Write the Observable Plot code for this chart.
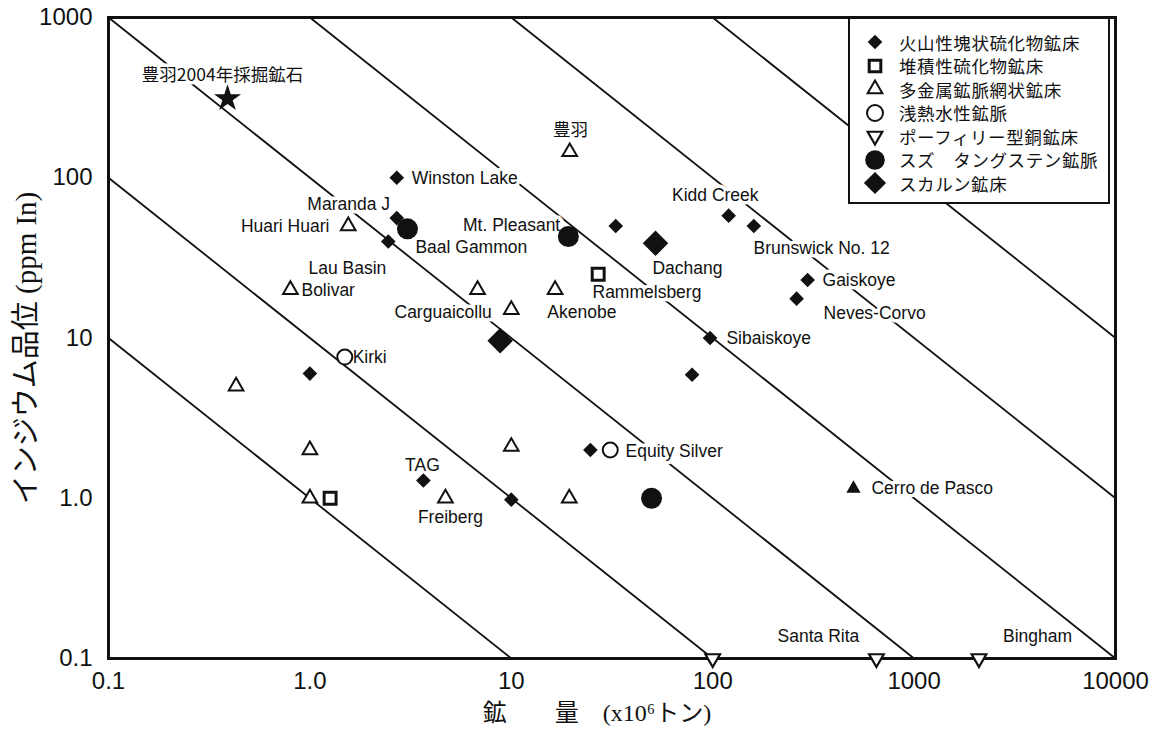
<!DOCTYPE html>
<html><head><meta charset="utf-8">
<script src="https://cdn.jsdelivr.net/npm/d3@7"></script>
<script src="https://cdn.jsdelivr.net/npm/@observablehq/plot@0.6"></script>
<style>
html,body{margin:0;padding:0;background:#fff;}
#wrap{position:relative;width:1159px;height:747px;overflow:hidden;background:#fff;}
#legend{position:absolute;left:848px;top:17px;width:262px;height:187px;box-sizing:border-box;border:2px solid #111;background:#fff;}
.row{position:absolute;left:0;height:24px;display:flex;align-items:center;}
.row svg{display:block;}
.row span{font-family:'Noto Sans CJK JP',sans-serif;font-size:17.5px;letter-spacing:0.6px;color:#111;margin-left:1px;white-space:nowrap;}
g[aria-label="site labels"] text{letter-spacing:1.8px;}
g[aria-label="jp labels"] text{letter-spacing:1.2px;}
</style></head><body><div id="wrap"></div><script>
// ---- axes ----
const xTicks = [0.1, 1, 10, 100, 1000, 10000];
const xTickLabels = ["0.1", "1.0", "10", "100", "1000", "10000"];
const yTicks = [0.1, 1, 10, 100, 1000];
const yTickLabels = ["0.1", "1.0", "10", "100", "1000"];
const xTitle = "鉱　　量　(x10⁶トン)";
const yTitle = "インジウム品位 (ppm In)";
// iso-metal lines: grade(ppm) × tonnage(10^6 t)
const metalContents = [1, 10, 100, 1000, 10000, 100000];

// ---- deposits (tonnage 10^6 t, In ppm) ----
const vms = [ // 火山性塊状硫化物鉱床
  {x: 2.7, y: 100}, {x: 2.7, y: 56}, {x: 2.45, y: 40}, {x: 33, y: 50},
  {x: 120, y: 58}, {x: 160, y: 50}, {x: 296, y: 23}, {x: 261, y: 17.6},
  {x: 97, y: 10}, {x: 79, y: 5.9}, {x: 1.0, y: 6.0}, {x: 24.7, y: 2.0},
  {x: 3.66, y: 1.29}, {x: 10, y: 0.98}
];
const sedimentary = [ // 堆積性硫化物鉱床
  {x: 1.26, y: 1.0}, {x: 27, y: 25}
];
const polymetallic = [ // 多金属鉱脈網状鉱床
  {x: 19.5, y: 145}, {x: 1.55, y: 50}, {x: 0.8, y: 20}, {x: 6.8, y: 20},
  {x: 10, y: 15}, {x: 16.5, y: 20}, {x: 0.43, y: 5.0}, {x: 1.0, y: 2.0},
  {x: 10, y: 2.1}, {x: 1.0, y: 1.0}, {x: 4.71, y: 1.0}, {x: 19.4, y: 1.0}
];
const epithermal = [ // 浅熱水性鉱脈
  {x: 1.49, y: 7.6}, {x: 31, y: 2.0}
];
const porphyry = [ // ポーフィリー型銅鉱床
  {x: 100, y: 0.1}, {x: 650, y: 0.1}, {x: 2100, y: 0.1}
];
const tinTungsten = [ // スズ タングステン鉱脈
  {x: 3.05, y: 48}, {x: 19.2, y: 43}, {x: 49.7, y: 1.0}
];
const skarn = [ // スカルン鉱床
  {x: 52, y: 39}, {x: 8.8, y: 9.6}
];
const cerroDePasco = [{x: 500, y: 1.15}];
const toyoha2004 = [{x: 0.39, y: 312}];

// ---- labels (anchor points in data units) ----
const labelsStart = [
  {name: "Winston Lake", x: 3.2, y: 99},
  {name: "Baal Gammon", x: 3.34, y: 36.7},
  {name: "Lau Basin", x: 0.984, y: 27.2},
  {name: "Bolivar", x: 0.908, y: 19.8},
  {name: "Akenobe", x: 15.1, y: 14.4},
  {name: "Rammelsberg", x: 25.3, y: 19.2},
  {name: "Brunswick No. 12", x: 159.6, y: 36.2},
  {name: "Dachang", x: 50.2, y: 27.2},
  {name: "Gaiskoye", x: 351, y: 22.9},
  {name: "Neves-Corvo", x: 355, y: 14.2},
  {name: "Sibaiskoye", x: 117, y: 9.93},
  {name: "Kirki", x: 1.63, y: 7.56},
  {name: "Equity Silver", x: 36.9, y: 1.96},
  {name: "Cerro de Pasco", x: 614, y: 1.15}
];
const labelsEnd = [
  {name: "Maranda J", x: 2.5, y: 68},
  {name: "Huari Huari", x: 1.25, y: 49.6},
  {name: "Mt. Pleasant", x: 17.5, y: 50.4},
  {name: "Carguaicollu", x: 8.0, y: 14.4}
];
const labelsMiddle = [
  {name: "Kidd Creek", x: 103, y: 77.5},
  {name: "TAG", x: 3.62, y: 1.6},
  {name: "Freiberg", x: 4.99, y: 0.759},
  {name: "Santa Rita", x: 335, y: 0.137},
  {name: "Bingham", x: 4100, y: 0.137}
];
const japaneseLabels = [
  {name: "豊羽2004年採掘鉱石", x: 0.368, y: 435},
  {name: "豊羽", x: 19.7, y: 197}
];
const legendNames = ["火山性塊状硫化物鉱床", "堆積性硫化物鉱床", "多金属鉱脈網状鉱床", "浅熱水性鉱脈", "ポーフィリー型銅鉱床", "スズ　タングステン鉱脈", "スカルン鉱床"];

// ---- build ----
const xDomain = [0.1, 10000], yDomain = [0.1, 1000];
const lineData = metalContents.flatMap(c => {
  const x0 = Math.max(xDomain[0], c / yDomain[1]);
  const x1 = Math.min(xDomain[1], c / yDomain[0]);
  return [{c, x: x0, y: c / x0}, {c, x: x1, y: c / x1}];
});
const xLab = new Map(xTicks.map((t, i) => [t, xTickLabels[i]]));
const yLab = new Map(yTicks.map((t, i) => [t, yTickLabels[i]]));

const triangleDown = {
  draw(ctx, size) {
    const k = Math.sqrt(size) * 0.6824, t = k / 2, u = k * Math.sqrt(3) / 2;
    ctx.moveTo(0, k); ctx.lineTo(u, -t); ctx.lineTo(-u, -t); ctx.closePath();
  }
};
const ink = "#111";
const labelStyle = {x: "x", y: "y", text: "name", fontSize: 17.5, fill: ink, stroke: "white", strokeWidth: 7, paintOrder: "stroke", ariaLabel: "site labels"};

const chart = Plot.plot({
  width: 1159, height: 747,
  marginLeft: 108, marginRight: 44, marginTop: 17, marginBottom: 89,
  x: {type: "log", domain: xDomain},
  y: {type: "log", domain: yDomain},
  style: {fontFamily: "'Liberation Sans', Arial, sans-serif", color: ink, background: "white", overflow: "visible"},
  marks: [
    Plot.line(lineData, {x: "x", y: "y", z: "c", stroke: ink, strokeWidth: 1.8}),
    Plot.axisX({ticks: xTicks, tickFormat: d => xLab.get(d), tickSize: 0, tickPadding: 13, fontSize: 24, label: null}),
    Plot.axisY({ticks: yTicks, tickFormat: d => yLab.get(d), tickSize: 0, tickPadding: 16, fontSize: 24, label: null}),
    Plot.text([xTitle], {frameAnchor: "bottom", textAnchor: "middle", dx: -15, dy: 62, fontSize: 24, fill: ink, fontFamily: "'Liberation Serif', 'Noto Sans CJK JP', serif"}),
    Plot.text([yTitle], {frameAnchor: "left", textAnchor: "middle", dx: -82, dy: 10, rotate: -90, fontSize: 29, fill: ink, fontFamily: "'Liberation Serif', 'Noto Sans CJK JP', serif"}),
    Plot.text(labelsStart, {...labelStyle, textAnchor: "start"}),
    Plot.text(labelsEnd, {...labelStyle, textAnchor: "end"}),
    Plot.text(labelsMiddle, {...labelStyle, textAnchor: "middle"}),
    Plot.text(japaneseLabels, {...labelStyle, fontSize: 17.5, textAnchor: "middle", fontFamily: "'Noto Sans CJK JP', sans-serif", ariaLabel: "jp labels"}),
    Plot.frame({stroke: ink, strokeWidth: 3}),
    Plot.dot(vms, {x: "x", y: "y", symbol: "diamond2", r: 6.6, fill: ink, stroke: "none"}),
    Plot.dot(sedimentary, {x: "x", y: "y", symbol: "square2", r: 7.6, fill: "white", stroke: ink, strokeWidth: 3}),
    Plot.dot(polymetallic, {x: "x", y: "y", symbol: "triangle2", r: 7, fill: "white", stroke: ink, strokeWidth: 2}),
    Plot.dot(epithermal, {x: "x", y: "y", symbol: "circle", r: 7.5, fill: "white", stroke: ink, strokeWidth: 2}),
    Plot.dot(porphyry, {x: "x", y: "y", symbol: triangleDown, r: 7, fill: "white", stroke: ink, strokeWidth: 2.2}),
    Plot.dot(tinTungsten, {x: "x", y: "y", symbol: "circle", r: 10.5, fill: ink, stroke: "none"}),
    Plot.dot(skarn, {x: "x", y: "y", symbol: "diamond2", r: 11.5, fill: ink, stroke: "none"}),
    Plot.dot(cerroDePasco, {x: "x", y: "y", symbol: "triangle2", r: 6.8, fill: ink, stroke: "none"}),
    Plot.dot(toyoha2004, {x: "x", y: "y", symbol: "star", r: 8.5, fill: ink, stroke: "none"})
  ]
});
const wrap = document.getElementById("wrap");
wrap.appendChild(chart);

// ---- legend ----
const legendSymbols = [
  {sym: d3.symbolDiamond2, r: 6.6, fill: ink, stroke: "none", sw: 0},
  {sym: d3.symbolSquare2, r: 7.4, fill: "white", stroke: ink, sw: 3},
  {sym: d3.symbolTriangle2, r: 7, fill: "white", stroke: ink, sw: 2},
  {sym: d3.symbolCircle, r: 8, fill: "white", stroke: ink, sw: 2},
  {sym: triangleDown, r: 7, fill: "white", stroke: ink, sw: 2.2},
  {sym: d3.symbolCircle, r: 9.8, fill: ink, stroke: "none", sw: 0},
  {sym: d3.symbolDiamond2, r: 10, fill: ink, stroke: "none", sw: 0}
];
const legend = document.createElement("div");
legend.id = "legend";
legendNames.forEach((name, i) => {
  const row = document.createElement("div");
  row.className = "row";
  row.style.top = (23 + i * 23.5 - 12) + "px";
  const s = legendSymbols[i];
  const path = d3.symbol(s.sym, Math.PI * s.r * s.r)();
  row.innerHTML = `<svg width="48" height="24" viewBox="-25 -12 48 24"><path d="${path}" fill="${s.fill}" stroke="${s.stroke}" stroke-width="${s.sw}"/></svg><span>${name}</span>`;
  legend.appendChild(row);
});
wrap.appendChild(legend);
</script></body></html>
